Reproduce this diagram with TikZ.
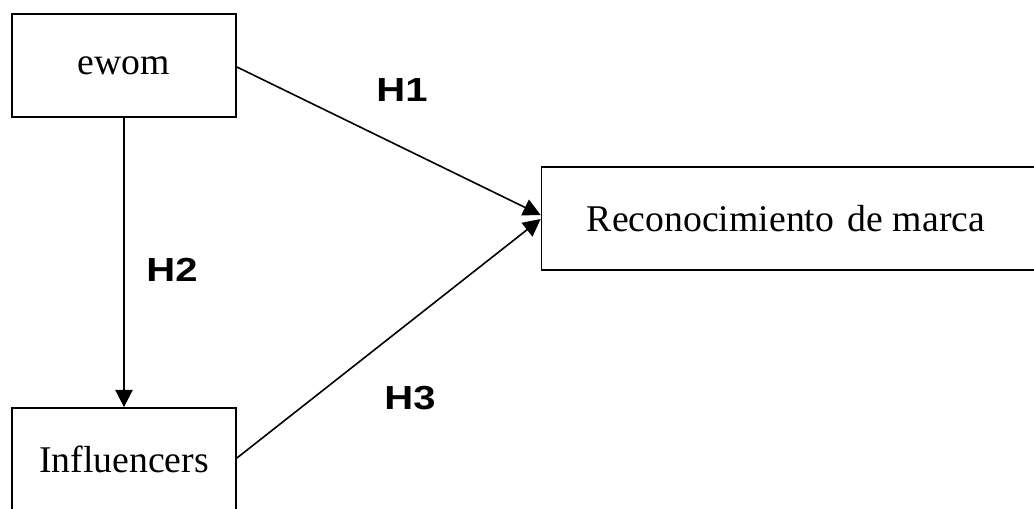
\documentclass[tikz,border=0pt]{standalone}
\usepackage{fontspec}
\setmainfont{Liberation Serif}
\newfontfamily\labfont[FakeStretch=1.2]{Liberation Sans}
\usetikzlibrary{arrows.meta}
\begin{document}
\begin{tikzpicture}[x=0.75pt,y=-0.75pt,
  box/.style={draw=black,line width=1.3pt,rectangle,inner sep=0pt,
    font=\fontsize{28.3}{34}\selectfont},
  conn/.style={draw=black,line width=1.2pt,-{Triangle[length=13pt,width=13pt]}},
  hlab/.style={font=\labfont\bfseries\fontsize{25}{29}\selectfont,inner sep=0pt}]
\useasboundingbox (0,0) rectangle (1034,508);
\node[box,minimum width=168pt,minimum height=77.25pt] (ewom) at (124,65.5) {ewom};
\node[box,minimum width=168pt,minimum height=77.25pt] (infl) at (124,459.5) {Influencers};
\node[box,minimum width=373.5pt,minimum height=77.25pt] (rec) at (790.5,218.5) {};
\node[font=\fontsize{28.3}{34}\selectfont,inner sep=0pt] (rectext) at (786,218.5) {Reconocimiento\hspace{0.36em}de marca};
\draw[conn] ([yshift=-1.1pt]ewom.east) -- ([yshift=2.6pt]rec.west);
\draw[conn] ([yshift=1.1pt]infl.east) -- ([yshift=-0.4pt]rec.west);
\draw[conn] (ewom.south) -- (infl.north);
\node[hlab] (h1) at (402,90) {H1};
\node[hlab] (h2) at (172,270) {H2};
\node[hlab] (h3) at (410,398) {H3};
\end{tikzpicture}
\end{document}
